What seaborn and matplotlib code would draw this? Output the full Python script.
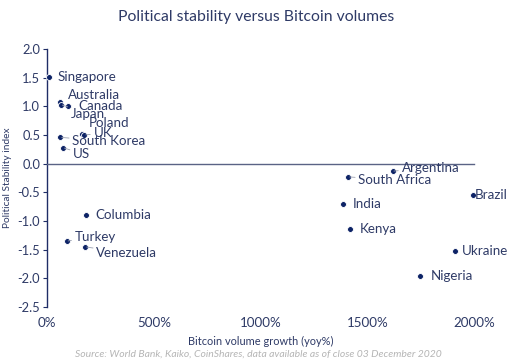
import numpy as np
import pandas as pd
import matplotlib
matplotlib.use("Agg")
import matplotlib.pyplot as plt
import seaborn as sns

countries = ["Singapore", "Australia", "Canada", "Japan", "Poland", "UK",
             "South Korea", "US", "Columbia", "Turkey", "Venezuela",
             "South Africa", "Argentina", "India", "Kenya", "Brazil",
             "Ukraine", "Nigeria"]
volume_growth = [8, 61, 100, 65, 165, 175, 62, 75, 180, 92, 179,
                 1411, 1618, 1388, 1421, 1995, 1911, 1748]
stability = [1.52, 1.08, 1.01, 1.03, 0.51, 0.50, 0.46, 0.28, -0.90, -1.35, -1.45,
             -0.23, -0.13, -0.71, -1.13, -0.55, -1.52, -1.95]

x_ticks = [0, 500, 1000, 1500, 2000]
x_ticklabels = ["0%", "500%", "1000%", "1500%", "2000%"]
y_ticks = [2.0, 1.5, 1.0, 0.5, 0.0, -0.5, -1.0, -1.5, -2.0, -2.5]

# label offsets in pixels (dx, dy), and whether a leader line is drawn
label_style = {
    "Singapore": (9, 0, False), "Australia": (8, 7, False), "Canada": (10, 0, False),
    "Japan": (10, -9, True), "Poland": (6, 11, False), "UK": (9, 2, True),
    "South Korea": (12, -4, True), "US": (10, -6, True), "Columbia": (10, 0, False),
    "Turkey": (8, 4, True), "Venezuela": (11, -6, True), "South Africa": (10, -3, True),
    "Argentina": (9, 3, True), "India": (9, 0, False), "Kenya": (9, 0, False),
    "Brazil": (2, 0, False), "Ukraine": (7, 0, False), "Nigeria": (10, 0, False),
}

navy = "#0d2366"
text_col = "#2e3a66"
axis_col = "#1f2d66"

df = pd.DataFrame({"country": countries, "growth": volume_growth, "stability": stability})

sns.set_style("white")
plt.rcParams["font.family"] = ["Lato", "DejaVu Sans"]

fig = plt.figure(figsize=(5.12, 3.63), dpi=100)
ax = fig.add_axes([0.092, 0.154, 0.834, 0.711])

sns.scatterplot(data=df, x="growth", y="stability", ax=ax, color=navy, s=18,
                edgecolor="white", linewidth=0.6, zorder=3, clip_on=False)

for _, r in df.iterrows():
    dx, dy, lead = label_style[r["country"]]
    arrow = dict(arrowstyle="-", color="#9aa0b0", lw=0.6, shrinkA=0, shrinkB=1) if lead else None
    ax.annotate(r["country"], (r["growth"], r["stability"]), xytext=(dx, dy),
                textcoords="offset pixels", ha="left", va="center", fontsize=9.6,
                color=text_col, arrowprops=arrow, annotation_clip=False)

ax.set_xlim(0, 2000)
ax.set_ylim(-2.5, 2.0)
ax.set_yticks(y_ticks)
ax.set_yticklabels([f"{v:.1f}" for v in y_ticks])
ax.set_xticks(x_ticks)

for side in ["top", "right"]:
    ax.spines[side].set_visible(False)
ax.spines["left"].set_color(axis_col)
ax.spines["left"].set_linewidth(1.0)
ax.spines["bottom"].set_position(("data", 0))
ax.spines["bottom"].set_color("#5a6385")
ax.spines["bottom"].set_linewidth(1.0)
ax.tick_params(axis="x", direction="out", length=4, color="#5a6385", labelbottom=False)
ax.tick_params(axis="y", direction="out", length=3, color=axis_col, labelsize=9.3,
               labelcolor=text_col, pad=2, left=True)
ax.set_xlabel("")
ax.set_ylabel("Political Stability index", fontsize=7.3, color=text_col, labelpad=4)

sec = ax.secondary_xaxis("bottom")
sec.set_xticks(x_ticks)
sec.set_xticklabels(x_ticklabels)
sec.spines["bottom"].set_visible(False)
sec.tick_params(length=0, labelsize=9.6, labelcolor=text_col, pad=7)
sec.set_xlabel("Bitcoin volume growth (yoy%)", fontsize=7.9, color=text_col, labelpad=5)

fig.text(0.5, 0.953, "Political stability versus Bitcoin volumes", ha="center", va="center",
         fontsize=11.3, color=text_col)
fig.text(0.505, 0.025, "Source: World Bank, Kaiko, CoinShares, data available as of close 03 December 2020",
         ha="center", va="center", fontsize=7.5, color="#b5b5b5", style="italic")

fig.savefig("out.png", dpi=100)
